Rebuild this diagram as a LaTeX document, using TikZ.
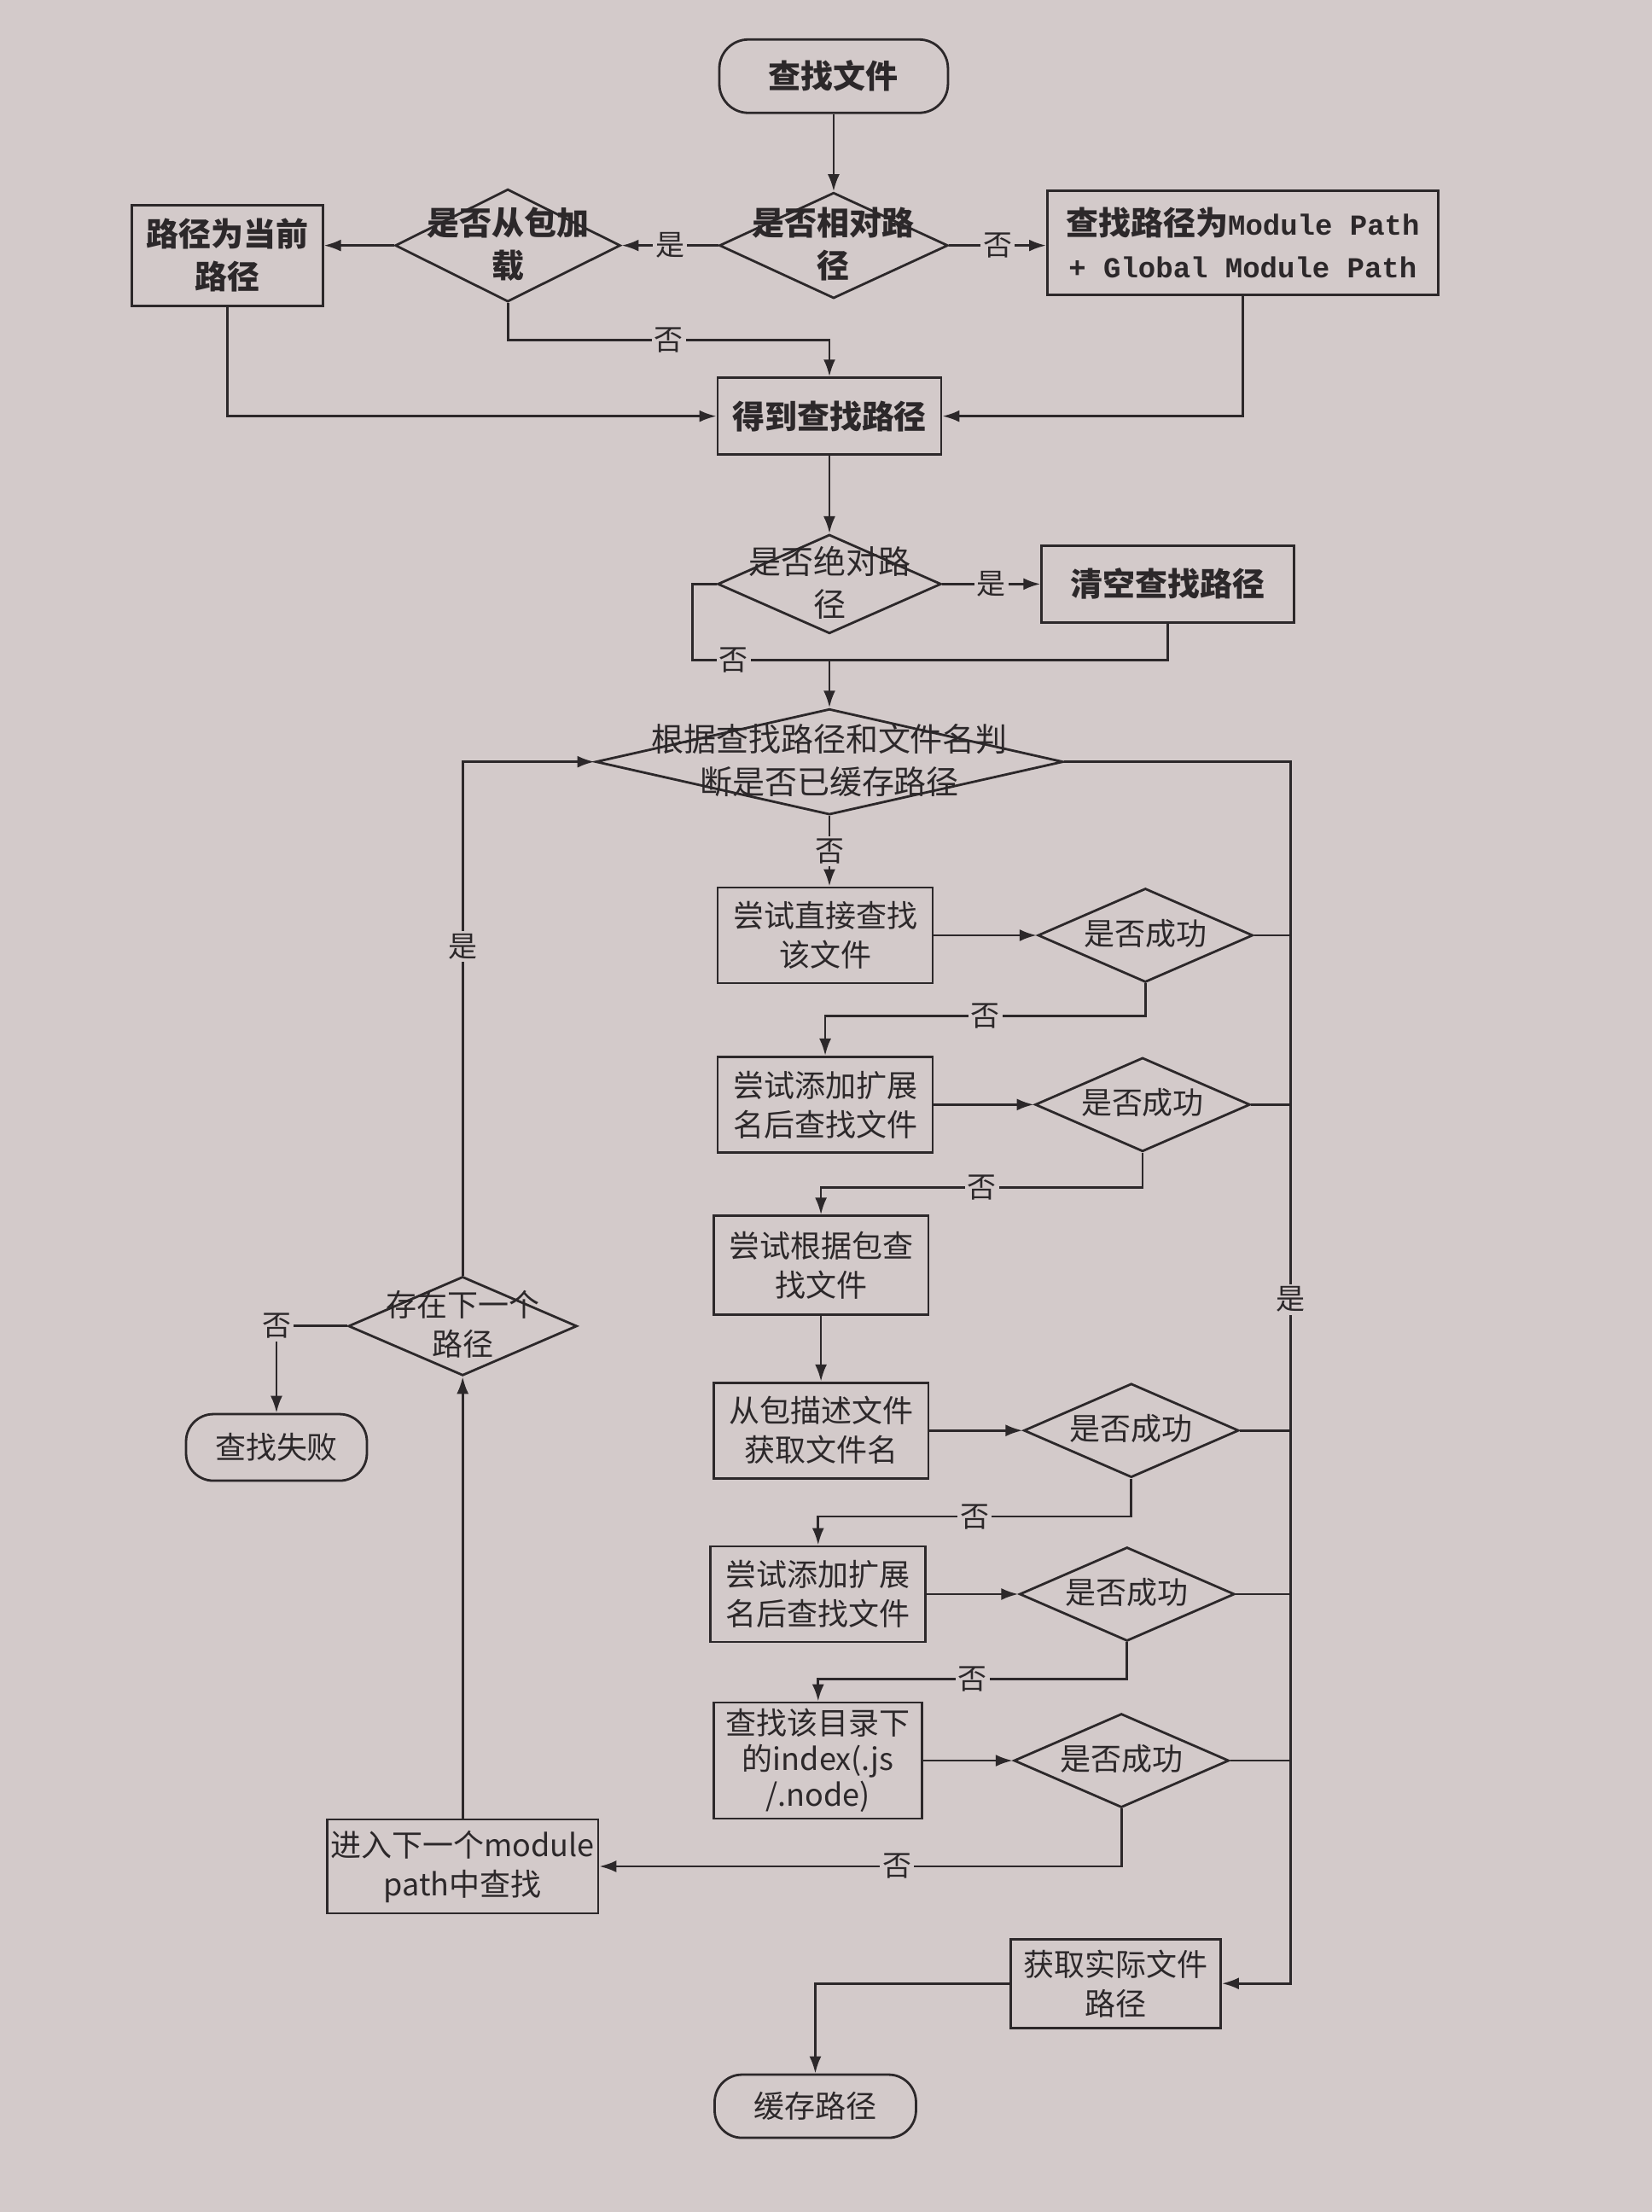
\documentclass[tikz,border=0pt]{standalone}
\usepackage{fontspec}
\setmainfont{Noto Sans CJK SC}
\newfontfamily\monof{Liberation Mono}
\usetikzlibrary{shapes.geometric,arrows.meta}
\definecolor{bgc}{HTML}{D3CACA}
\definecolor{ink}{HTML}{2C282A}
\newcommand{\dtxt}[1]{\smash{\makebox[0pt]{\raisebox{-0.3em}{\begin{tabular}{@{}c@{}}#1\end{tabular}}}}}
\newcommand{\fa}{\fontsize{19}{25}\selectfont}
\newcommand{\fb}{\fontsize{18}{23}\selectfont}
\tikzset{
  line/.style={draw=ink, line width=1.4pt},
  arr/.style={line, -{Latex[length=10pt,width=7pt]}},
  boxn/.style={draw=ink, line width=1.4pt, rectangle, align=center, inner sep=2pt, text=ink},
  dia/.style={draw=ink, line width=1.4pt, diamond, inner sep=0pt, text=ink},
  term/.style={draw=ink, line width=1.4pt, rectangle, rounded corners=17pt, align=center, text=ink},
  lab/.style={fill=bgc, inner sep=1.5pt, text=ink, font=\fontsize{17}{17}\selectfont},
  lbox/.style={boxn, minimum width=126pt, minimum height=56pt, font=\fb},
  sdia/.style={dia, minimum width=126pt, minimum height=55pt, font=\fb},
}
\begin{document}
\begin{tikzpicture}[x=0.8267pt,y=-0.8267pt]
\fill[bgc] (0,0) rectangle (1171,1568);
\useasboundingbox (0,0) rectangle (1171,1568);

% top part
\node[term, minimum width=134pt, minimum height=43pt, font=\fa\bfseries] (start) at (591,54) {查找文件};
\node[dia, minimum width=134pt, minimum height=62pt, font=\fa\bfseries] (d1) at (591,174) {\dtxt{是否相对路\\径}};
\node[dia, minimum width=132pt, minimum height=66pt, font=\fa\bfseries] (d2) at (360,174) {\dtxt{是否从包加\\载}};
\node[boxn, minimum width=112pt, minimum height=59pt, font=\fa\bfseries] (pcur) at (161,181) {路径为当前\\路径};
\node[boxn, minimum width=229pt, minimum height=61pt, font=\fa\bfseries] (mp) at (881,172) {查找路径为{\monof\fontsize{17}{25}\selectfont Module Path}\\{\monof\fontsize{17}{25}\selectfont + Global Module Path}};
\node[boxn, minimum width=131pt, minimum height=45pt, font=\fa\bfseries] (get) at (588,295) {得到查找路径};
\node[dia, minimum width=131pt, minimum height=58pt, font=\fa] (d3) at (588,414) {\dtxt{是否绝对路\\径}};
\node[boxn, minimum width=148pt, minimum height=45pt, font=\fa\bfseries] (clr) at (828,414) {清空查找路径};
\node[dia, minimum width=274pt, minimum height=62pt, font=\fa] (d4) at (588,540) {\dtxt{根据查找路径和文件名判\\断是否已缓存路径}};

% lower column
\node[lbox] (b1) at (585,663) {尝试直接查找\\该文件};
\node[sdia] (s1) at (812,663) {\dtxt{是否成功}};
\node[lbox] (b2) at (585,783) {尝试添加扩展\\名后查找文件};
\node[sdia] (s2) at (810,783) {\dtxt{是否成功}};
\node[lbox, minimum height=58pt] (b3) at (582,897) {尝试根据包查\\找文件};
\node[lbox] (b4) at (582,1014) {从包描述文件\\获取文件名};
\node[sdia] (s3) at (802,1014) {\dtxt{是否成功}};
\node[lbox] (b5) at (580,1130) {尝试添加扩展\\名后查找文件};
\node[sdia] (s4) at (799,1130) {\dtxt{是否成功}};
\node[lbox, minimum width=122pt, minimum height=68pt, font=\fontsize{18}{21}\selectfont] (b6) at (580,1248) {查找该目录下\\的index(.js\\/.node)};
\node[sdia] (s5) at (795,1248) {\dtxt{是否成功}};
\node[boxn, minimum width=158pt, minimum height=55pt, font=\fb] (b7) at (328,1323) {进入下一个module\\path中查找};
\node[dia, minimum width=134pt, minimum height=58pt, font=\fb] (d5) at (328,940) {\dtxt{存在下一个\\路径}};
\node[term, minimum width=106pt, minimum height=39pt, rounded corners=16pt, font=\fb] (fail) at (196,1026) {查找失败};
\node[boxn, minimum width=123pt, minimum height=52pt, font=\fb] (b8) at (791,1406) {获取实际文件\\路径};
\node[term, minimum width=118pt, minimum height=37pt, rounded corners=16pt, font=\fb] (cache) at (578,1493) {缓存路径};

% junction coordinates
\coordinate (j1) at (588,241);
\coordinate (c3) at (491,468);
\coordinate (j2) at (588,468);
\coordinate (k1) at (585,720);
\coordinate (k2) at (582,842);
\coordinate (k3) at (580,1075);
\coordinate (k4) at (580,1190);
\coordinate (bt) at (915,540);

% top connectors
\draw[arr] (start) -- (d1);
\draw[arr] (d1.west) -- node[lab]{是} (d2.east);
\draw[arr] (d2.west) -- (d2.west -| pcur.east);
\draw[arr] (d1.east) -- node[lab]{否} (d1.east -| mp.west);
\draw[arr] (d2.south) |- node[lab,pos=0.75]{否} (j1) -- (get.north);
\draw[arr] (pcur.south) |- (get.west);
\draw[arr] (mp.south) |- (get.east);
\draw[arr] (get) -- (d3);
\draw[arr] (d3.east) -- node[lab]{是} (clr.west);
\draw[line] (d3.west) -| (c3) -- node[lab,pos=0.3]{否} (j2);
\draw[line] (clr.south) |- (j2);
\draw[arr] (j2) -- (d4.north);

% lower connectors
\draw[arr] (d4.south) -- node[lab]{否} (d4.south |- b1.north);
\draw[arr] (b1.east) -- (s1.west);
\draw[arr] (s1.south) |- node[lab,pos=0.75]{否} (k1) -- (b2.north);
\draw[arr] (b2.east) -- (s2.west);
\draw[arr] (s2.south) |- node[lab,pos=0.75]{否} (k2) -- (b3.north);
\draw[arr] (b3.south) -- (b4.north);
\draw[arr] (b4.east) -- (s3.west);
\draw[arr] (s3.south) |- node[lab,pos=0.75]{否} (k3) -- (b5.north);
\draw[arr] (b5.east) -- (s4.west);
\draw[arr] (s4.south) |- node[lab,pos=0.75]{否} (k4) -- (b6.north);
\draw[arr] (b6.east) -- (s5.west);
\draw[arr] (s5.south) |- node[lab,pos=0.715]{否} (b7.east);
\draw[arr] (b7.north) -- (d5.south);
\draw[arr] (d5.north) |- node[lab,pos=0.32]{是} (d4.west);
\draw[arr] (d5.west) -| node[lab,pos=0.5]{否} (fail.north);

% right bus
\draw[arr] (d4.east) -- (bt) |- node[lab,pos=0.22]{是} (b8.east);
\draw[line] (s1.east) -- (s1.east -| bt);
\draw[line] (s2.east) -- (s2.east -| bt);
\draw[line] (s3.east) -- (s3.east -| bt);
\draw[line] (s4.east) -- (s4.east -| bt);
\draw[line] (s5.east) -- (s5.east -| bt);
\draw[arr] (b8.west) -| (cache.north);
\end{tikzpicture}
\end{document}
